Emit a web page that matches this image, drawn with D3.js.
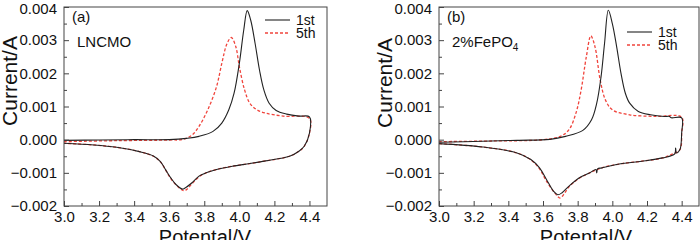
<!DOCTYPE html>
<html>
<head>
<meta charset="utf-8">
<script src="https://cdn.jsdelivr.net/npm/d3@7"></script>
<style>
  html, body { margin: 0; padding: 0; background: #fff; }
  svg { display: block; }
  text { font-family: "Liberation Sans", Arial, sans-serif; fill: #111; }
</style>
</head>
<body>
<div id="chart"></div>
<script>
// 坐标轴刻度
const xTicks = [3.0, 3.2, 3.4, 3.6, 3.8, 4.0, 4.2, 4.4]
const yTicks = [-0.002, -0.001, 0.000, 0.001, 0.002, 0.003, 0.004]
const seriesNames = ["1st", "5th"]

// (a) LNCMO —— 第1圈，[电位/V, 电流/A]
const a1st = [
  [3.0, -0.00002], [3.2, -0.00001], [3.4, 0.0], [3.6, 0.0], [3.7, 0.00004], [3.77, 0.0001],
  [3.85, 0.00025], [3.9, 0.0005], [3.94, 0.0009], [3.97, 0.0014], [4.0, 0.0023], [4.025, 0.0033],
  [4.045, 0.00389], [4.065, 0.0036], [4.09, 0.0029], [4.115, 0.0021], [4.14, 0.0015], [4.17, 0.0011],
  [4.21, 0.00088], [4.27, 0.00077], [4.34, 0.00071], [4.4, 0.00069], [4.4, 0.0002], [4.37, -0.0002],
  [4.34, -0.00035], [4.286, -0.0005], [4.15, -0.00064], [4.06, -0.00072], [3.96, -0.0008],
  [3.87, -0.0009], [3.81, -0.001], [3.77, -0.0011], [3.73, -0.0013], [3.69, -0.00146],
  [3.675, -0.00149], [3.64, -0.00136], [3.61, -0.00116], [3.58, -0.00091], [3.55, -0.00066],
  [3.51, -0.00049], [3.43, -0.00036], [3.3, -0.00023], [3.17, -0.00016], [3.0, -0.00011]
]
// (a) LNCMO —— 第5圈
const a5th = [
  [3.0, -0.00006], [3.3, -0.00003], [3.6, -0.00001], [3.68, 0.00001], [3.73, 0.00014], [3.77, 0.0004],
  [3.82, 0.0009], [3.87, 0.0016], [3.9, 0.0023], [3.93, 0.0029], [3.954, 0.00308], [3.98, 0.0028],
  [4.0, 0.0022], [4.03, 0.0015], [4.06, 0.0011], [4.1, 0.0009], [4.15, 0.0008], [4.25, 0.00071],
  [4.4, 0.00064], [4.4, 0.0002], [4.37, -0.0002], [4.34, -0.00035], [4.286, -0.0005],
  [4.15, -0.00064], [4.06, -0.00072], [3.96, -0.0008], [3.87, -0.0009], [3.81, -0.001],
  [3.77, -0.00112], [3.73, -0.00133], [3.7, -0.0015], [3.683, -0.00154], [3.65, -0.00142],
  [3.61, -0.00118], [3.58, -0.00092], [3.55, -0.00067], [3.51, -0.0005], [3.43, -0.00036],
  [3.3, -0.00023], [3.17, -0.00016], [3.0, -0.00011]
]
// (b) 2%FePO4 —— 第1圈
const b1st = [
  [3.0, -0.00008], [3.25, -0.00005], [3.45, -0.00002], [3.64, 0.00001], [3.73, 0.0001], [3.83, 0.00028],
  [3.88, 0.0006], [3.91, 0.0011], [3.935, 0.0019], [3.955, 0.0029], [3.977, 0.0039], [4.0, 0.0035],
  [4.025, 0.0028], [4.05, 0.002], [4.075, 0.0014], [4.1, 0.0011], [4.15, 0.00085], [4.22, 0.00075],
  [4.3, 0.0007], [4.33, 0.0007], [4.34, 0.00066], [4.4, 0.00066], [4.4, 0.0002], [4.39, -0.0003],
  [4.37, -0.0004], [4.365, -0.00025], [4.36, -0.00043], [4.29, -0.00055], [4.17, -0.00065],
  [4.057, -0.00072], [3.94, -0.00085], [3.915, -0.00088], [3.91, -0.001], [3.905, -0.0009],
  [3.87, -0.001], [3.81, -0.00115], [3.75, -0.0014], [3.71, -0.0016], [3.685, -0.00166],
  [3.66, -0.00155], [3.62, -0.0012], [3.58, -0.00085], [3.53, -0.0006], [3.45, -0.0004],
  [3.25, -0.00022], [3.0, -0.00012]
]
// (b) 2%FePO4 —— 第5圈
const b5th = [
  [3.0, -0.00006], [3.3, -0.00004], [3.6, 0.0], [3.7, 0.0001], [3.75, 0.0003], [3.79, 0.0008],
  [3.82, 0.0015], [3.85, 0.0025], [3.876, 0.00313], [3.9, 0.0028], [3.93, 0.0018], [3.96, 0.0012],
  [4.0, 0.0009], [4.1, 0.00075], [4.25, 0.0007], [4.4, 0.00068], [4.4, 0.0002], [4.39, -0.0003],
  [4.34, -0.00045], [4.29, -0.00055], [4.17, -0.00065], [4.057, -0.00072], [3.94, -0.00085],
  [3.87, -0.001], [3.81, -0.00116], [3.75, -0.00142], [3.72, -0.00165], [3.698, -0.00176],
  [3.67, -0.00162], [3.62, -0.00125], [3.58, -0.00088], [3.53, -0.00061], [3.45, -0.0004],
  [3.25, -0.00022], [3.0, -0.00012]
]

const panels = [
  {
    left: 64, right: 327, label: "(a)", sample: "LNCMO", sub: "",
    data: [a1st, a5th], legendX: 265, legendY: 20,
    titleX: 205, titleYx: 10, titleYy: 81
  },
  {
    left: 439, right: 699, label: "(b)", sample: "2%FePO", sub: "4",
    data: [b1st, b5th], legendX: 627, legendY: 32,
    titleX: 586, titleYx: 385, titleYy: 83
  }
]

const plotTop = 7, plotBottom = 206
const svg = d3.select("#chart").append("svg").attr("width", 700).attr("height", 240)

panels.forEach(p => drawPanel(p))

function drawPanel(p) {
  const x = d3.scaleLinear().domain([3.0, 4.5]).range([p.left, p.right])
  const y = d3.scaleLinear().domain([-0.002, 0.004]).range([plotBottom, plotTop])
  const g = svg.append("g")

  // 曲线
  const line = d3.line().x(d => x(d[0])).y(d => y(d[1])).curve(d3.curveCatmullRom.alpha(0.5))
  g.append("path").datum(p.data[1])
    .attr("d", line).attr("fill", "none")
    .attr("stroke", "#f0443c").attr("stroke-width", 1.3).attr("stroke-dasharray", "3,2")
  g.append("path").datum(p.data[0])
    .attr("d", line).attr("fill", "none")
    .attr("stroke", "#222").attr("stroke-width", 1.1)

  // 刻度（向内）
  const xAxis = d3.axisBottom(x).tickValues(xTicks).tickSize(-5).tickPadding(5).tickFormat(d3.format(".1f"))
  const xMinor = d3.axisBottom(x).tickValues(d3.range(3.1, 4.5, 0.2)).tickSize(-3).tickFormat("")
  const yAxis = d3.axisLeft(y).tickValues(yTicks).tickSize(-5).tickPadding(7).tickFormat(d3.format(".3f"))
  const yMinor = d3.axisLeft(y).tickValues(d3.range(-0.0015, 0.004, 0.001)).tickSize(-3).tickFormat("")

  ;[
    g.append("g").attr("transform", `translate(0,${plotBottom})`).call(xAxis),
    g.append("g").attr("transform", `translate(0,${plotBottom})`).call(xMinor),
    g.append("g").attr("transform", `translate(${p.left},0)`).call(yAxis),
    g.append("g").attr("transform", `translate(${p.left},0)`).call(yMinor)
  ].forEach(a => {
    a.select(".domain").remove()
    a.selectAll("line").attr("stroke", "#444")
    a.selectAll("text").attr("font-size", 15).attr("fill", "#111")
  })
  // 顶部 0.004 标签稍下移，避免被裁
  g.selectAll(".tick text").filter(d => d === 0.004).attr("dy", "0.45em")

  // 边框
  g.append("rect")
    .attr("x", p.left).attr("y", plotTop)
    .attr("width", p.right - p.left).attr("height", plotBottom - plotTop)
    .attr("fill", "none").attr("stroke", "#444").attr("stroke-width", 1)

  // 轴标题
  g.append("text").attr("x", p.titleX).attr("y", 244)
    .attr("text-anchor", "middle").attr("font-size", 20).text("Potental/V")
  g.append("text")
    .attr("transform", `translate(${p.titleYx},${p.titleYy}) rotate(-90)`)
    .attr("text-anchor", "middle").attr("dy", "0.35em").attr("font-size", 21).text("Current/A")

  // 标注
  g.append("text").attr("x", p.left + 8).attr("y", 17).attr("dy", "0.35em")
    .attr("font-size", 15).text(p.label)
  const s = g.append("text").attr("x", p.left + 13).attr("y", 42).attr("dy", "0.35em")
    .attr("font-size", 15).text(p.sample)
  if (p.sub) s.append("tspan").attr("font-size", 10).attr("dy", 4).text(p.sub)

  // 图例
  const lg = g.append("g").attr("transform", `translate(${p.legendX},${p.legendY})`)
  seriesNames.forEach((name, i) => {
    const row = lg.append("g").attr("transform", `translate(0,${i * 13})`)
    row.append("line").attr("x1", 0).attr("x2", 25)
      .attr("stroke", i ? "#f0443c" : "#222")
      .attr("stroke-width", i ? 1.3 : 1.1)
      .attr("stroke-dasharray", i ? "3,2" : null)
    row.append("text").attr("x", 31).attr("dy", "0.35em").attr("font-size", 14).text(name)
  })
}
</script>
</body>
</html>
